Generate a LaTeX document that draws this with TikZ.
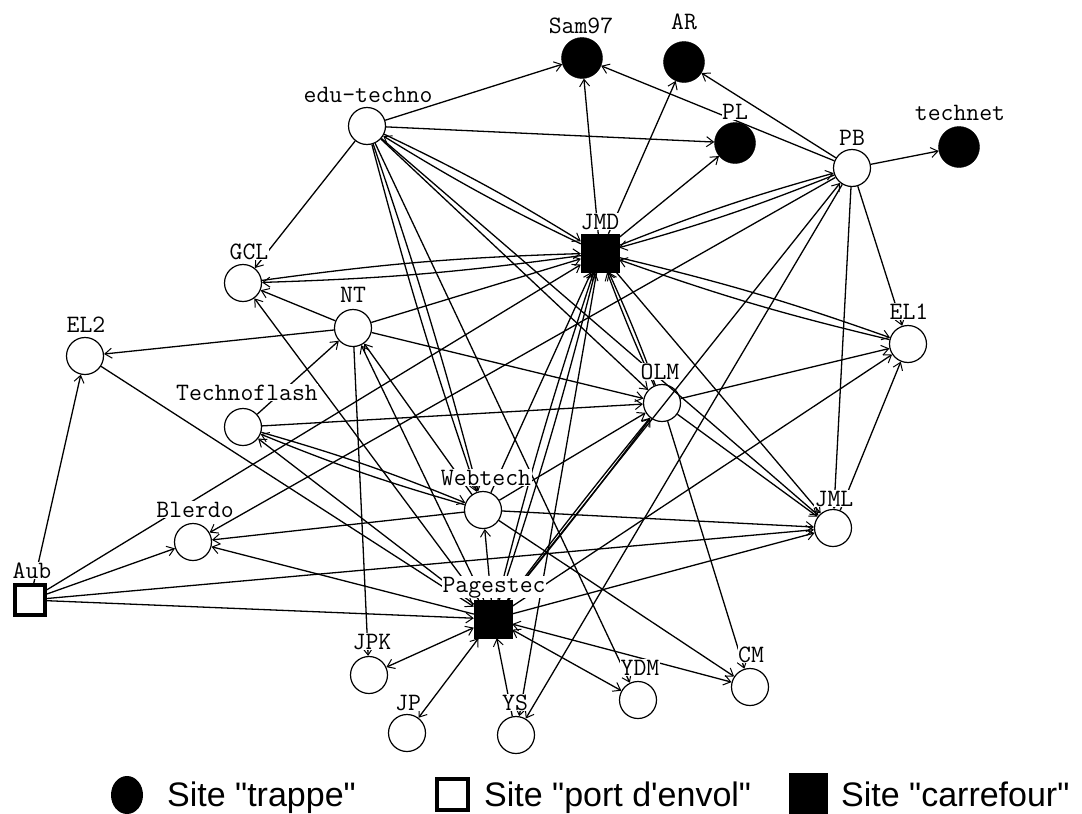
\documentclass[tikz,border=0pt]{standalone}
\usepackage{fontspec}
\newfontfamily\legfont{Liberation Sans}[Ligatures=TeXOff]
\usetikzlibrary{arrows.meta,shapes.geometric}
\begin{document}
\begin{tikzpicture}[x=1pt,y=-1pt,
  site/.style={circle,draw,line width=1.2pt,minimum size=37pt,inner sep=0pt},
  trap/.style={circle,fill=black,draw=black,minimum size=41pt,inner sep=0pt},
  hub/.style={rectangle,fill=black,draw=black,minimum size=38pt,inner sep=0pt},
  port/.style={rectangle,draw,line width=4pt,minimum size=30pt,inner sep=0pt},
  lab/.style={font=\ttfamily\fontsize{25}{25}\selectfont,fill=white,inner sep=0.5pt,anchor=base},
  leg/.style={font=\legfont\fontsize{34}{34}\selectfont,inner sep=0pt,anchor=base west},
  arr/.style={line width=1.3pt,-{Straight Barb[length=7pt,width=10pt,line width=1pt]}},
  arrb/.style={line width=1.3pt,{Straight Barb[length=7pt,width=10pt,line width=1pt]}-{Straight Barb[length=7pt,width=10pt,line width=1pt]}},
  ]
\fill[white] (0,0) rectangle (1082,814);
\useasboundingbox (0,0) rectangle (1082,814);

% nodes
\node[trap] (Sam) at (582,58) {};
\node[trap] (AR) at (684,62) {};
\node[trap] (PL) at (735,143) {};
\node[trap] (tech) at (959,147) {};
\node[site] (edu) at (367,126) {};
\node[site] (PB) at (852,168) {};
\node[hub] (JMD) at (600,253) {};
\node[site] (GCL) at (243,283) {};
\node[site] (NT) at (353,328) {};
\node[site] (EL2) at (85,356) {};
\node[site] (EL1) at (908,344) {};
\node[site] (OLM) at (662,403) {};
\node[site] (Tf) at (243,427) {};
\node[site] (Web) at (483,510) {};
\node[site] (Bl) at (193,542) {};
\node[site] (JML) at (833,528) {};
\node[port] (Aub) at (30,600) {};
\node[hub] (Pg) at (493,619) {};
\node[site] (JPK) at (369,675) {};
\node[site] (CM) at (750,687) {};
\node[site] (YDM) at (638,700) {};
\node[site] (JP) at (407,733) {};
\node[site] (YS) at (516,735) {};

% edges
\draw[arr] (edu) -- (Sam);
\draw[arr] (edu) -- (PL);
\draw[arr] (edu) -- (GCL);
\draw[arr] (JMD) -- (Sam);
\draw[arr] (JMD) -- (AR);
\draw[arr] (JMD) -- (PL);
\draw[arr] (PB) -- (Sam);
\draw[arr] (PB) -- (AR);
\draw[arr] (PB) -- (tech);
\draw[arr] (JMD) to[bend left=3] (PB);
\draw[arr] (PB) to[bend left=3] (JMD);
\draw[arr] (PB) -- (EL1);
\draw[arr] (PB) -- (JML);
\draw[arr] (PB) -- (YS);
\draw[arr] (PB) -- (Bl);
\draw[arr] (Pg) -- (PB);
\draw[arr] (edu) to[bend left=3] (JMD);
\draw[arr] (JMD) to[bend left=3] (edu);
\draw[arr] (edu) -- (OLM);
\draw[arr] (edu) -- (JML);
\draw[arr] (edu) -- (YDM);
\draw[arr] (edu) to[bend left=2] (Web);
\draw[arr] (edu) to[bend right=2] (Web);
\draw[arr] (JMD) to[bend left=3] (GCL);
\draw[arr] (GCL) to[bend left=3] (JMD);
\draw[arr] (NT) -- (JMD);
\draw[arr] (JMD) to[bend left=3] (EL1);
\draw[arr] (EL1) to[bend left=3] (JMD);
\draw[arr] (OLM) to[bend left=2] (JMD);
\draw[arr] (OLM) to[bend right=2] (JMD);
\draw[arr] (JMD) -- (JML);
\draw[arr] (JMD) -- (YS);
\draw[arr] (Aub) -- (JMD);
\draw[arr] (Pg) to[bend left=2] (JMD);
\draw[arr] (Pg) to[bend right=2] (JMD);
\draw[arr] (Web) -- (JMD);
\draw[arr] (NT) -- (GCL);
\draw[arr] (Pg) -- (GCL);
\draw[arr] (Tf) -- (NT);
\draw[arr] (NT) -- (EL2);
\draw[arr] (NT) -- (OLM);
\draw[arr] (NT) -- (JPK);
\draw[arr] (Web) -- (NT);
\draw[arr] (Pg) -- (NT);
\draw[arr] (Aub) -- (EL2);
\draw[arr] (EL2) -- (Pg);
\draw[arr] (Tf) -- (OLM);
\draw[arr] (Web) to[bend left=3] (Tf);
\draw[arr] (Tf) to[bend left=3] (Web);
\draw[arr] (Pg) -- (Tf);
\draw[arr] (Web) -- (OLM);
\draw[arr] (Pg) to[bend left=1] (OLM);
\draw[arr] (Pg) to[bend right=1] (OLM);
\draw[arr] (OLM) -- (EL1);
\draw[arr] (OLM) -- (JML);
\draw[arr] (OLM) -- (CM);
\draw[arr] (Pg) -- (EL1);
\draw[arr] (JML) -- (EL1);
\draw[arr] (Web) -- (JML);
\draw[arr] (Pg) -- (JML);
\draw[arr] (Aub) -- (JML);
\draw[arr] (Pg) -- (Web);
\draw[arr] (Web) -- (Bl);
\draw[arr] (Web) -- (CM);
\draw[arr] (Aub) -- (Bl);
\draw[arr] (Pg) -- (Bl);
\draw[arr] (Aub) -- (Pg);
\draw[arrb] (Pg) -- (JPK);
\draw[arrb] (Pg) -- (JP);
\draw[arr] (YS) -- (Pg);
\draw[arrb] (Pg) -- (YDM);
\draw[arrb] (Pg) -- (CM);

% labels
\node[lab] (lSam) at (581,33) {Sam97};
\node[lab] (lAR) at (684,29) {AR};
\node[lab] (lPL) at (735,119) {PL};
\node[lab] (ltech) at (960,120) {technet};
\node[lab] (ledu) at (368,102) {edu-techno};
\node[lab] (lPB) at (852,145) {PB};
\node[lab] (lJMD) at (600,229) {JMD};
\node[lab] (lGCL) at (249,259) {GCL};
\node[lab] (lNT) at (353,302) {NT};
\node[lab] (lEL2) at (86,332) {EL2};
\node[lab] (lEL1) at (909,319) {EL1};
\node[lab] (lOLM) at (660,379) {OLM};
\node[lab] (lTf) at (247,400) {Technoflash};
\node[lab] (lWeb) at (486,485) {Webtech};
\node[lab] (lBl) at (195,517) {Blerdo};
\node[lab] (lJML) at (834,506) {JML};
\node[lab] (lAub) at (32,578) {Aub};
\node[lab] (lPg) at (494,592) {Pagestec};
\node[lab] (lJPK) at (372,649) {JPK};
\node[lab] (lJP) at (408,710) {JP};
\node[lab] (lYS) at (515,710) {YS};
\node[lab] (lYDM) at (640,675) {YDM};
\node[lab] (lCM) at (751,662) {CM};

% legend
\node[ellipse,fill=black,minimum width=32pt,minimum height=38pt,inner sep=0pt] (g1) at (127,795) {};
\node[leg] (t1) at (167,806) {Site "trappe"};
\node[port,minimum size=31pt] (g2) at (452,794) {};
\node[leg] (t2) at (484,806) {Site "port d'envol"};
\node[hub,minimum width=38pt,minimum height=40pt] (g3) at (808,793) {};
\node[leg] (t3) at (841,806) {Site "carrefour"};
\end{tikzpicture}
\end{document}
